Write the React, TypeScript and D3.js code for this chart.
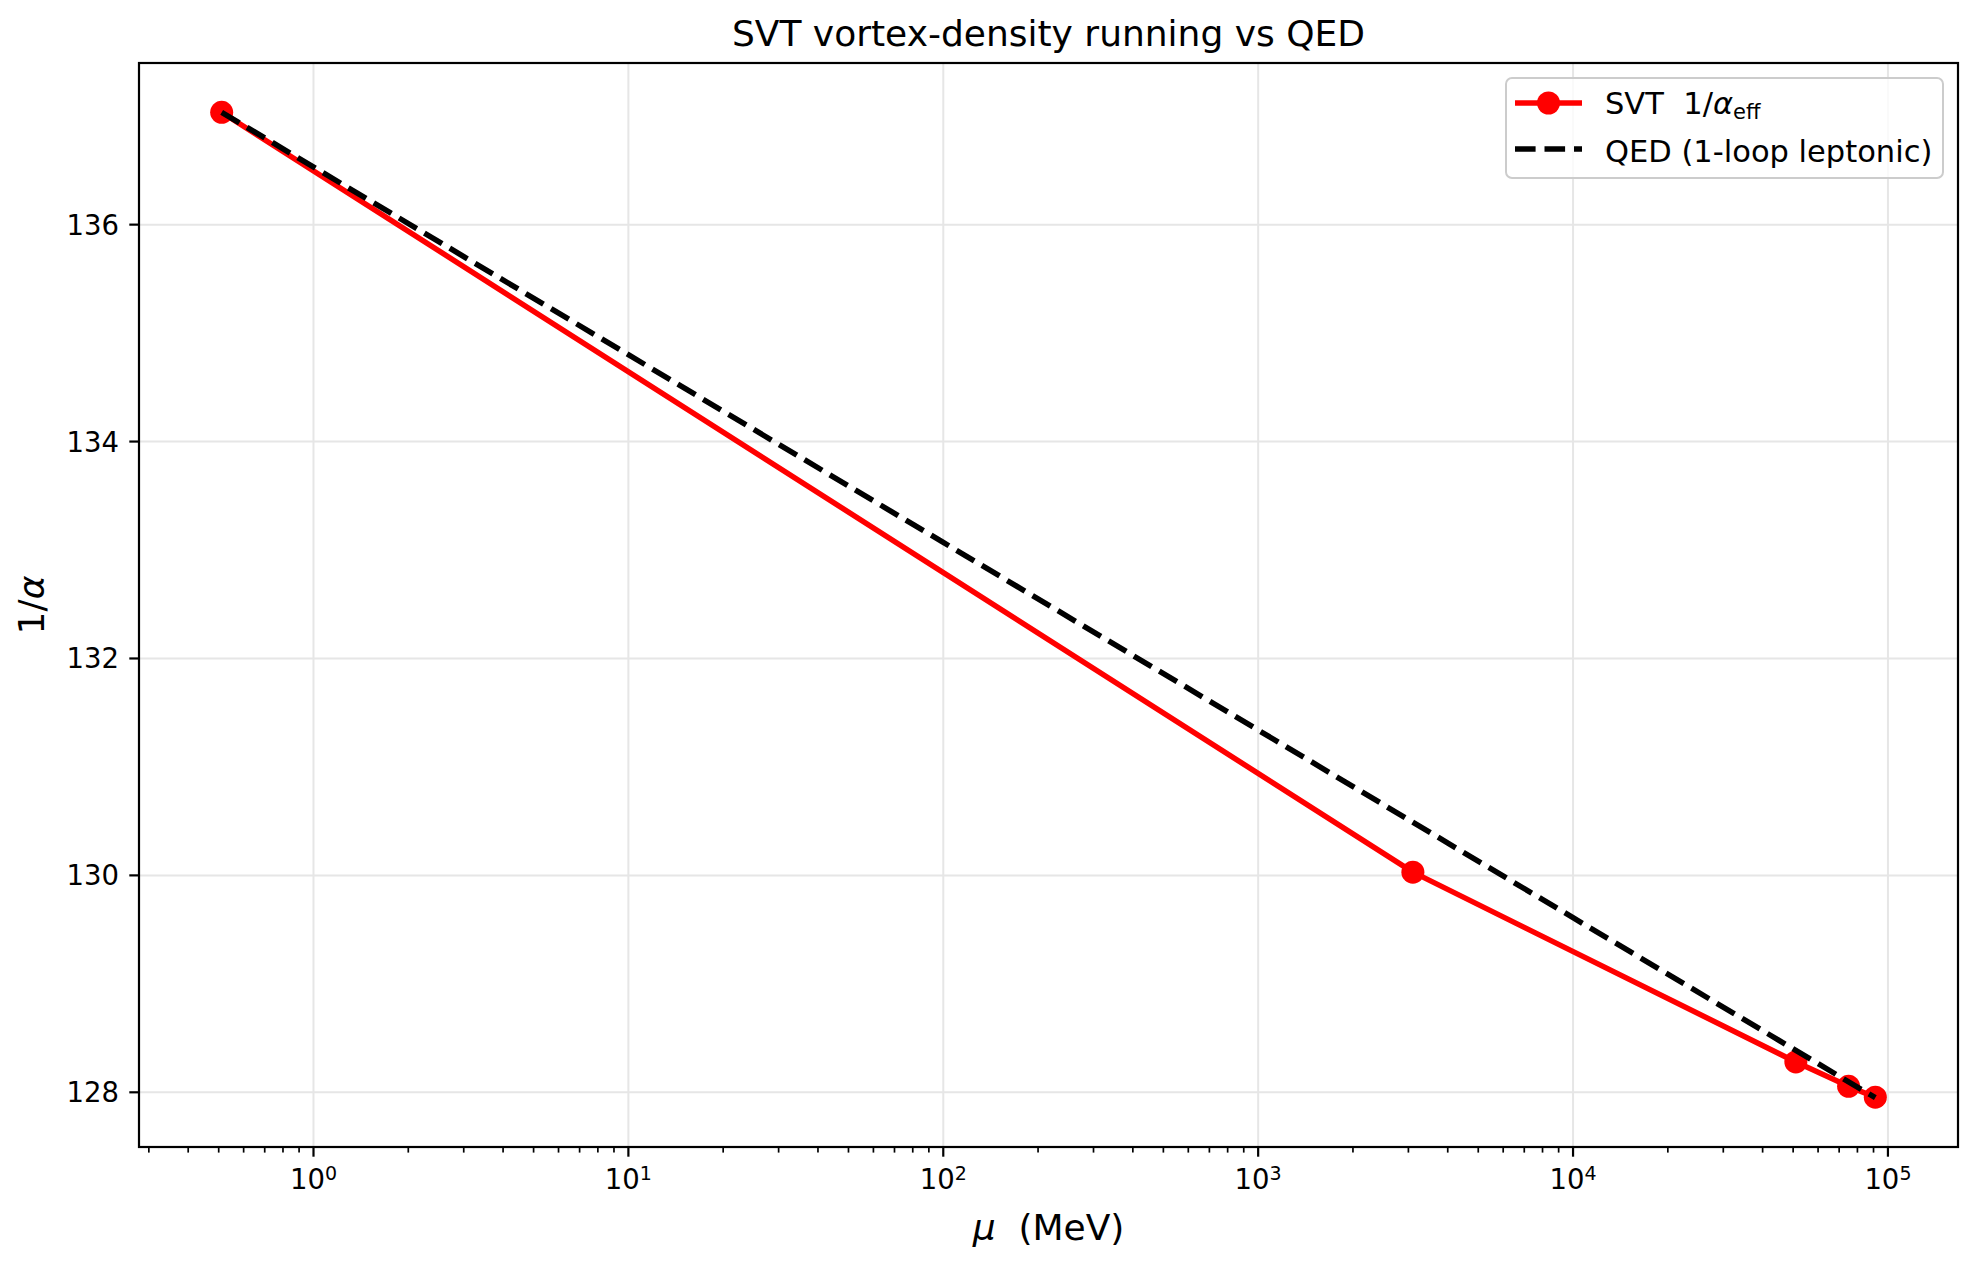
import React, { useRef, useEffect } from 'react';
import * as d3 from 'd3';

// Energy scale (MeV) of the SVT points and their 1/alpha values
const svtMu = [0.511, 3100, 51000, 75000, 91188];
const svtInvAlpha = [137.036, 130.03, 128.28, 128.055, 127.955];

// QED (1-loop leptonic) reference line
const qedMu = [0.511, 100, 10000, 91188];
const qedInvAlpha = [137.036, 133.07, 129.61, 127.95];

const yTicks = [128, 130, 132, 134, 136];
const xTickExps = [0, 1, 2, 3, 4, 5];

const App = () => {
  const chartRef = useRef<SVGSVGElement>(null);

  useEffect(() => {
    const svg = d3.select(chartRef.current);
    svg.selectAll('*').remove();

    const W = 1978;
    const H = 1265;
    const margin = { top: 63, right: 20, bottom: 118, left: 139 };
    const x0 = margin.left;
    const x1 = W - margin.right;
    const y0 = margin.top;
    const y1 = H - margin.bottom;
    const font = 'DejaVu Sans, sans-serif';

    // matplotlib style 5% margins
    const allMu = svtMu.concat(qedMu);
    const allY = svtInvAlpha.concat(qedInvAlpha);
    const lx = d3.extent(allMu.map(Math.log10)) as [number, number];
    const padX = (lx[1] - lx[0]) * 0.05;
    const ly = d3.extent(allY) as [number, number];
    const padY = (ly[1] - ly[0]) * 0.05;

    const x = d3.scaleLog()
      .domain([Math.pow(10, lx[0] - padX), Math.pow(10, lx[1] + padX)])
      .range([x0, x1]);
    const y = d3.scaleLinear()
      .domain([ly[0] - padY, ly[1] + padY])
      .range([y1, y0]);

    svg.append('rect').attr('width', W).attr('height', H).attr('fill', '#fff');

    // grid
    const grid = svg.append('g').attr('stroke', '#e6e6e6').attr('stroke-width', 2);
    xTickExps.forEach(e => {
      grid.append('line')
        .attr('x1', x(Math.pow(10, e))).attr('x2', x(Math.pow(10, e)))
        .attr('y1', y0).attr('y2', y1);
    });
    yTicks.forEach(t => {
      grid.append('line')
        .attr('x1', x0).attr('x2', x1)
        .attr('y1', y(t)).attr('y2', y(t));
    });

    // SVT line + markers
    const svtData = svtMu.map((m, i) => [m, svtInvAlpha[i]]);
    const line = d3.line<number[]>()
      .x(d => x(d[0]))
      .y(d => y(d[1]));

    svg.append('path')
      .datum(svtData)
      .attr('fill', 'none')
      .attr('stroke', '#ff0000')
      .attr('stroke-width', 5.5)
      .attr('stroke-linejoin', 'round')
      .attr('d', line);

    svg.selectAll('.dot')
      .data(svtData)
      .enter().append('circle')
      .attr('cx', d => x(d[0]))
      .attr('cy', d => y(d[1]))
      .attr('r', 11.5)
      .attr('fill', '#ff0000');

    // QED dashed line
    const qedData = qedMu.map((m, i) => [m, qedInvAlpha[i]]);
    svg.append('path')
      .datum(qedData)
      .attr('fill', 'none')
      .attr('stroke', '#000')
      .attr('stroke-width', 5.5)
      .attr('stroke-dasharray', '20.6,8.9')
      .attr('d', line);

    // spines
    svg.append('rect')
      .attr('x', x0).attr('y', y0)
      .attr('width', x1 - x0).attr('height', y1 - y0)
      .attr('fill', 'none').attr('stroke', '#000').attr('stroke-width', 2.2);

    // x ticks (log)
    const minor: number[] = [];
    for (let e = -1; e <= 5; e++) {
      for (let k = 2; k <= 9; k++) {
        const v = k * Math.pow(10, e);
        if (v >= x.domain()[0] && v <= x.domain()[1]) minor.push(v);
      }
    }
    minor.forEach(v => {
      svg.append('line')
        .attr('x1', x(v)).attr('x2', x(v))
        .attr('y1', y1).attr('y2', y1 + 5.6)
        .attr('stroke', '#000').attr('stroke-width', 1.7);
    });
    xTickExps.forEach(e => {
      const px = x(Math.pow(10, e));
      svg.append('line')
        .attr('x1', px).attr('x2', px)
        .attr('y1', y1).attr('y2', y1 + 9.7)
        .attr('stroke', '#000').attr('stroke-width', 2.2);
      const t = svg.append('text')
        .attr('x', px).attr('y', y1 + 42)
        .attr('text-anchor', 'middle')
        .attr('font-family', font)
        .attr('font-size', 27.5);
      t.append('tspan').text('10');
      t.append('tspan').attr('dy', -9).attr('font-size', 19).text(String(e));
    });

    // y ticks
    yTicks.forEach(v => {
      svg.append('line')
        .attr('x1', x0 - 9.7).attr('x2', x0)
        .attr('y1', y(v)).attr('y2', y(v))
        .attr('stroke', '#000').attr('stroke-width', 2.2);
      svg.append('text')
        .attr('x', x0 - 20).attr('y', y(v) + 10)
        .attr('text-anchor', 'end')
        .attr('font-family', font)
        .attr('font-size', 27.5)
        .text(v);
    });

    // title + labels
    const cx = (x0 + x1) / 2;
    svg.append('text')
      .attr('x', cx).attr('y', 46)
      .attr('text-anchor', 'middle')
      .attr('font-family', font)
      .attr('font-size', 36)
      .text('SVT vortex-density running vs QED');

    const xl = svg.append('text')
      .attr('x', cx).attr('y', 1240)
      .attr('text-anchor', 'middle')
      .attr('font-family', font)
      .attr('font-size', 36)
      .style('white-space', 'pre');
    xl.append('tspan').attr('font-style', 'italic').text('μ');
    xl.append('tspan').text('  (MeV)');

    const yl = svg.append('text')
      .attr('transform', `translate(44,${(y0 + y1) / 2}) rotate(-90)`)
      .attr('text-anchor', 'middle')
      .attr('font-family', font)
      .attr('font-size', 36);
    yl.append('tspan').text('1/');
    yl.append('tspan').attr('font-style', 'italic').text('α');

    // legend
    const lg = svg.append('g');
    lg.append('rect')
      .attr('x', 1506).attr('y', 78)
      .attr('width', 437).attr('height', 100)
      .attr('rx', 6)
      .attr('fill', '#fff').attr('fill-opacity', 0.8)
      .attr('stroke', '#cccccc').attr('stroke-width', 2);
    lg.append('line')
      .attr('x1', 1515).attr('x2', 1582)
      .attr('y1', 103).attr('y2', 103)
      .attr('stroke', '#ff0000').attr('stroke-width', 5.5);
    lg.append('circle')
      .attr('cx', 1548.5).attr('cy', 103).attr('r', 11.5)
      .attr('fill', '#ff0000');
    lg.append('line')
      .attr('x1', 1515).attr('x2', 1582)
      .attr('y1', 149).attr('y2', 149)
      .attr('stroke', '#000').attr('stroke-width', 5.5)
      .attr('stroke-dasharray', '20.6,8.9');

    const l1 = lg.append('text')
      .attr('x', 1605).attr('y', 114)
      .attr('font-family', font)
      .attr('font-size', 30.5)
      .style('white-space', 'pre');
    l1.append('tspan').text('SVT  1/');
    l1.append('tspan').attr('font-style', 'italic').text('α');
    l1.append('tspan').attr('dy', 5).attr('font-size', 21).text('eff');

    lg.append('text')
      .attr('x', 1605).attr('y', 162)
      .attr('font-family', font)
      .attr('font-size', 30.5)
      .text('QED (1-loop leptonic)');
  }, []);

  return (
    <svg
      ref={chartRef}
      width={1978}
      height={1265}
      style={{ position: 'absolute', left: 0, top: 0, display: 'block' }}
    />
  );
};

export default App;
